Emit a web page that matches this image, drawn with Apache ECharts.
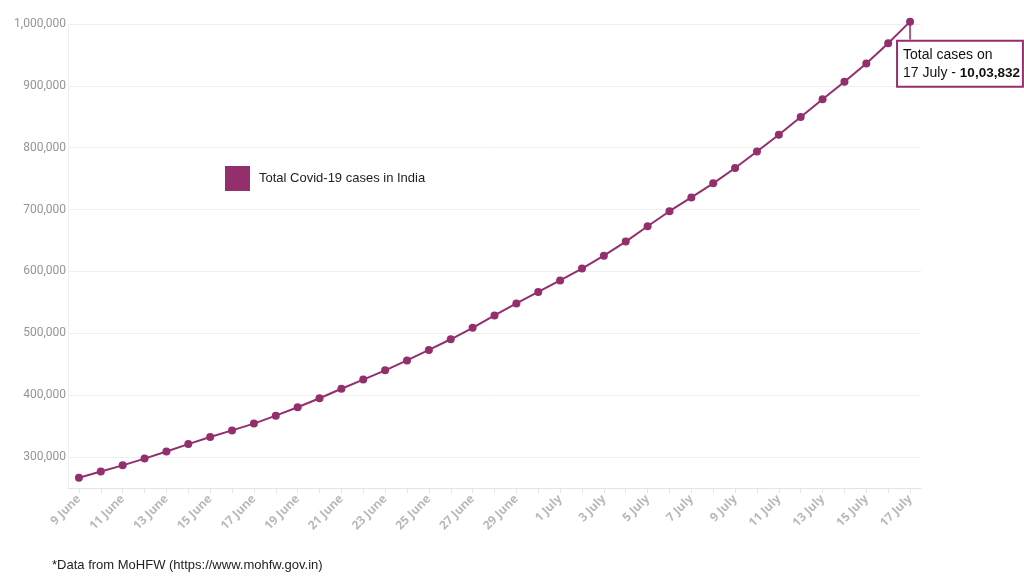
<!DOCTYPE html>
<html>
<head>
<meta charset="utf-8">
<script src="https://cdn.jsdelivr.net/npm/echarts@6/dist/echarts.min.js"></script>
<style>html,body{margin:0;padding:0;background:#fff;}#c{width:1024px;height:576px;}</style>
</head>
<body>
<div id="c"></div>
<script>
var dates = ['9 June','10 June','11 June','12 June','13 June','14 June','15 June','16 June','17 June','18 June','19 June','20 June','21 June','22 June','23 June','24 June','25 June','26 June','27 June','28 June','29 June','30 June','1 July','2 July','3 July','4 July','5 July','6 July','7 July','8 July','9 July','10 July','11 July','12 July','13 July','14 July','15 July','16 July','17 July'];
var cases = [266598,276583,286579,297535,308993,320922,332424,343091,354065,366946,380532,395048,410461,425282,440215,456183,473105,490401,508953,528859,548318,566840,585493,604641,625544,648315,673165,697413,719665,742417,767296,793802,820916,849553,878254,906752,936181,968876,1003832];
var seriesName = 'Total Covid-19 cases in India';
var note = '*Data from MoHFW (https://www.mohfw.gov.in)';
var annotTitle = 'Total cases on';
var annotDate = '17 July';
var annotValue = '10,03,832';

var purple = '#922f6c';
var last = cases.length - 1;
var data = cases.map(function (v, i) {
  if (i === last) {
    return {
      value: v,
      label: {
        show: true,
        position: 'bottom',
        align: 'left',
        distance: 16,
        offset: [-12, 0],
        borderColor: purple,
        borderWidth: 2,
        backgroundColor: '#fff',
        padding: [5, 2, 3, 5],
        lineHeight: 18,
        formatter: '{a|' + annotTitle + '}\n{a|' + annotDate + ' - }{b|' + annotValue + '}',
        rich: {
          a: { fontFamily: 'Liberation Sans', fontSize: 14, color: '#111', lineHeight: 18, align: 'left' },
          b: { fontFamily: 'Liberation Sans', fontSize: 13.5, fontWeight: 'bold', color: '#111', lineHeight: 18 }
        }
      }
    };
  }
  return v;
});
// connector for the annotation: only the last point carries a value
var connectorData = cases.map(function (v, i) { return i === last ? v : null; });

var chart = echarts.init(document.getElementById('c'));
chart.setOption({
  animation: false,
  backgroundColor: '#fff',
  title: {
    text: note,
    left: 47,
    top: 554,
    textStyle: { fontFamily: 'Liberation Sans', fontSize: 13, fontWeight: 'normal', color: '#222' }
  },
  legend: {
    left: 220,
    top: 161,
    icon: 'rect',
    itemWidth: 25,
    itemHeight: 25,
    data: [seriesName],
    textStyle: { fontFamily: 'Liberation Sans', fontSize: 13, color: '#222', padding: [0, 0, 0, 4] }
  },
  grid: { left: 68, right: 103, top: 24, bottom: 88, containLabel: false },
  xAxis: {
    type: 'category',
    data: dates,
    boundaryGap: true,
    axisLine: { show: true, lineStyle: { color: '#e4e4e4', width: 1 } },
    axisTick: { show: true, alignWithLabel: true, interval: 0, length: 5, lineStyle: { color: '#e4e4e4' } },
    axisLabel: {
      interval: 1,
      rotate: 45,
      margin: 9,
      fontFamily: 'Open Sans',
      fontWeight: 'bold',
      fontSize: 12,
      color: '#b8b8b8'
    },
    splitLine: { show: false }
  },
  yAxis: {
    type: 'value',
    min: 250000,
    max: 1000000,
    interval: 50000,
    axisLine: { show: true, lineStyle: { color: '#efefef' } },
    axisTick: { show: false },
    axisLabel: {
      margin: 2,
      fontFamily: 'Roboto',
      fontSize: 12,
      color: '#959595',
      formatter: function (v) {
        return v % 100000 === 0 ? v.toLocaleString('en-US') : '';
      }
    },
    splitLine: { show: true, lineStyle: { color: ['rgba(0,0,0,0)', '#efefef'], width: 1 } }
  },
  series: [{
    name: 'connector',
    type: 'scatter',
    data: connectorData,
    clip: false,
    symbol: 'rect',
    symbolSize: [2, 18],
    symbolOffset: [0, 9],
    itemStyle: { color: purple },
    silent: true,
    z: 2
  }, {
    name: seriesName,
    type: 'line',
    data: data,
    clip: false,
    color: purple,
    symbol: 'circle',
    symbolSize: 8,
    lineStyle: { width: 2, color: purple },
    itemStyle: { color: purple },
    z: 3
  }]
});
</script>
</body>
</html>
